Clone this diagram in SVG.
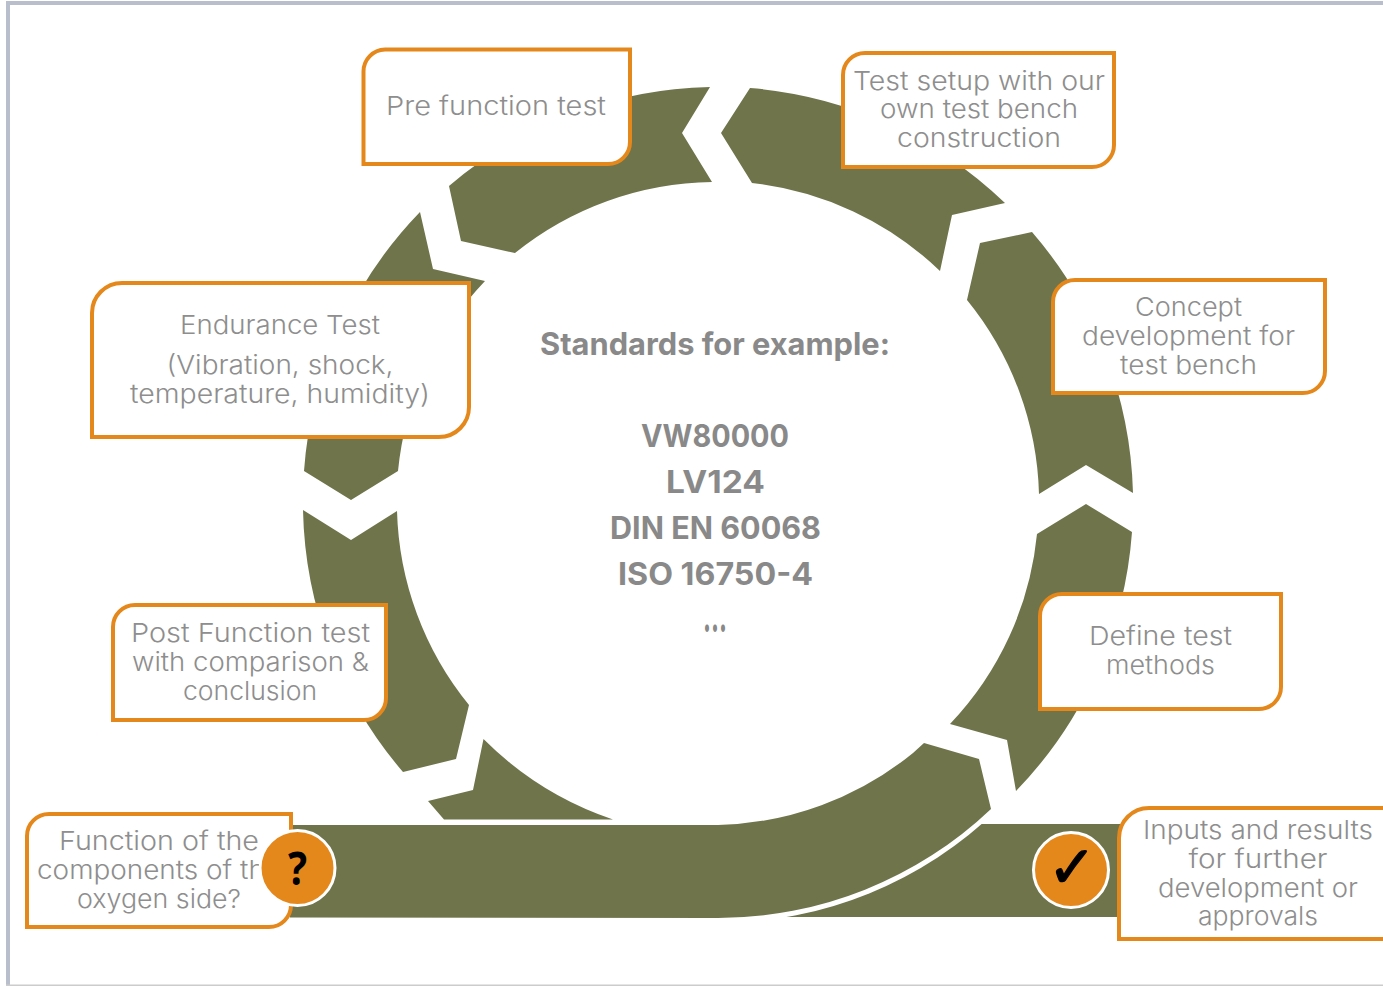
<svg xmlns="http://www.w3.org/2000/svg" width="1383" height="986" viewBox="0 0 1383 986">
<style>
.seg{fill:#6F744B}
.box{fill:#fff;stroke:#E5881C;stroke-width:4}
text{text-anchor:middle}
.t{font-family:"Inter","Noto Sans",sans-serif;font-size:26px;font-weight:300;fill:#8E8E8E}
.c{font-family:"Inter","Noto Sans",sans-serif;font-size:31px;font-weight:700;fill:#898989}
.dot{fill:#E5881C;stroke:#fff;stroke-width:3}
.ic{font-family:"Noto Sans","DejaVu Sans",sans-serif;font-weight:bold;fill:#000}
</style>
<rect width="1383" height="986" fill="#fff"/>
<g id="frame">
<rect x="6" y="1" width="4" height="985" fill="#B8BECB"/>
<rect x="6" y="1" width="1377" height="4" fill="#B8BECB"/>
<rect x="6" y="984.500" width="1377" height="1.500" fill="#CCCCCC"/>
</g>
<g id="connectors">
<path class="seg" d="M710 87A415.500 415.500 0 0 0 449 186L461 241L515 253A321 321 0 0 1 712 182L682 133Z"/>
<path class="seg" d="M750 88A415.500 415.500 0 0 1 1005 203L952 215L940 271A321 321 0 0 0 752 183L721 133Z"/>
<path class="seg" d="M1032 232L980 243L967 300A321 321 0 0 1 1039 494L1086 465L1133 493A415.500 415.500 0 0 0 1032 232Z"/>
<path class="seg" d="M1086 504L1037 534A321 321 0 0 1 950 724L1007 740L1016 791A415.500 415.500 0 0 0 1132 532Z"/>
<rect class="seg" x="718" y="824" width="407" height="93"/>
<path d="M998 809A401 401 0 0 1 718 923L718 800Z" fill="#fff"/>
<path class="seg" d="M924 743L979 759L991 809A396.400 396.400 0 0 1 718 918L290 917.500L290 825L718 825A321 321 0 0 0 913 753Z"/>
<path class="seg" d="M483.500 739L473 790L428 801L444 819.500L613 819.500A333 333 0 0 1 483.500 739Z"/>
<path class="seg" d="M303 510L351 540L397 511A321 321 0 0 0 469 705L456 759L403 772A415.500 415.500 0 0 1 303 510Z"/>
<path class="seg" d="M485 281L433 269L420 212A415.500 415.500 0 0 0 304 471L351 500L398 471A321 321 0 0 1 485 281Z"/>
</g>
<g id="node-pre"><path class="box" d="M385 49.500H630V142A22 22 0 0 1 608 164H363.500V71.500A22 22 0 0 1 385 49.500Z"/><text class="t" x="496" y="115" textLength="220" lengthAdjust="spacingAndGlyphs">Pre function test</text></g>
<g id="node-setup"><path class="box" d="M865 53H1114V145A22 22 0 0 1 1092 167H843V75A22 22 0 0 1 865 53Z"/><text class="t" x="979" y="90" textLength="252" lengthAdjust="spacingAndGlyphs">Test setup with our</text><text class="t" x="979" y="118" textLength="198" lengthAdjust="spacingAndGlyphs">own test bench</text><text class="t" x="979" y="147" textLength="164" lengthAdjust="spacingAndGlyphs">construction</text></g>
<g id="node-concept"><path class="box" d="M1075 280H1325V371A22 22 0 0 1 1303 393H1053V302A22 22 0 0 1 1075 280Z"/><text class="t" x="1188.500" y="316" textLength="107" lengthAdjust="spacingAndGlyphs">Concept</text><text class="t" x="1188.500" y="345" textLength="213" lengthAdjust="spacingAndGlyphs">development for</text><text class="t" x="1188.500" y="374" textLength="137" lengthAdjust="spacingAndGlyphs">test bench</text></g>
<g id="node-methods"><path class="box" d="M1062 594H1281V687A22 22 0 0 1 1259 709H1040V616A22 22 0 0 1 1062 594Z"/><text class="t" x="1160.500" y="645" textLength="143" lengthAdjust="spacingAndGlyphs">Define test</text><text class="t" x="1160.500" y="674" textLength="109" lengthAdjust="spacingAndGlyphs">methods</text></g>
<g id="node-endurance"><path class="box" d="M122 283H469V407A30 30 0 0 1 439 437H92V313A30 30 0 0 1 122 283Z"/><text class="t" x="280" y="334" textLength="200" lengthAdjust="spacingAndGlyphs">Endurance Test</text><text class="t" x="280" y="374" textLength="227" lengthAdjust="spacingAndGlyphs">(Vibration, shock,</text><text class="t" x="280" y="403" textLength="300" lengthAdjust="spacingAndGlyphs">temperature, humidity)</text></g>
<g id="node-post"><path class="box" d="M135 605H386V698A22 22 0 0 1 364 720H113V627A22 22 0 0 1 135 605Z"/><text class="t" x="250.500" y="642" textLength="239" lengthAdjust="spacingAndGlyphs">Post Function test</text><text class="t" x="250.500" y="671" textLength="237" lengthAdjust="spacingAndGlyphs">with comparison &amp;</text><text class="t" x="250" y="700" textLength="134" lengthAdjust="spacingAndGlyphs">conclusion</text></g>
<g id="node-function"><path class="box" d="M49 814H291V905A22 22 0 0 1 269 927H27V836A22 22 0 0 1 49 814Z"/><text class="t" x="159" y="850" textLength="200" lengthAdjust="spacingAndGlyphs">Function of the</text><text class="t" x="159" y="879" textLength="244" lengthAdjust="spacingAndGlyphs">components of the</text><text class="t" x="159" y="908" textLength="164" lengthAdjust="spacingAndGlyphs">oxygen side?</text></g>
<g id="node-inputs"><path class="box" d="M1149 808H1400V939H1119V838A30 30 0 0 1 1149 808Z"/><text class="t" x="1258" y="839" textLength="230" lengthAdjust="spacingAndGlyphs">Inputs and results</text><text class="t" x="1258" y="868" textLength="139" lengthAdjust="spacingAndGlyphs">for further</text><text class="t" x="1258" y="897" textLength="200" lengthAdjust="spacingAndGlyphs">development or</text><text class="t" x="1258" y="925" textLength="120" lengthAdjust="spacingAndGlyphs">approvals</text></g>
<g id="node-question"><circle class="dot" cx="297.500" cy="868" r="37.500"/><text class="ic" x="297.500" y="885" font-size="46" textLength="19" lengthAdjust="spacingAndGlyphs">?</text></g>
<g id="node-check"><circle class="dot" cx="1071" cy="870" r="37.500"/><text class="ic" x="1072" y="887" font-size="58" stroke="#000" stroke-width="1.200" style='font-family:"DejaVu Sans",sans-serif'>✓</text></g>
<g id="center-text">
<text class="c" x="715" y="355" textLength="350" lengthAdjust="spacingAndGlyphs">Standards for example:</text>
<text class="c" x="715" y="447" textLength="148" lengthAdjust="spacingAndGlyphs">VW80000</text>
<text class="c" x="715.500" y="493" textLength="99" lengthAdjust="spacingAndGlyphs">LV124</text>
<text class="c" x="715.500" y="539" textLength="211" lengthAdjust="spacingAndGlyphs">DIN EN 60068</text>
<text class="c" x="715.500" y="585" textLength="195" lengthAdjust="spacingAndGlyphs">ISO 16750-4</text>
<text class="c" x="715" y="632" font-size="44" style="font-size:44px" textLength="24" lengthAdjust="spacingAndGlyphs">...</text>
</g>
</svg>
